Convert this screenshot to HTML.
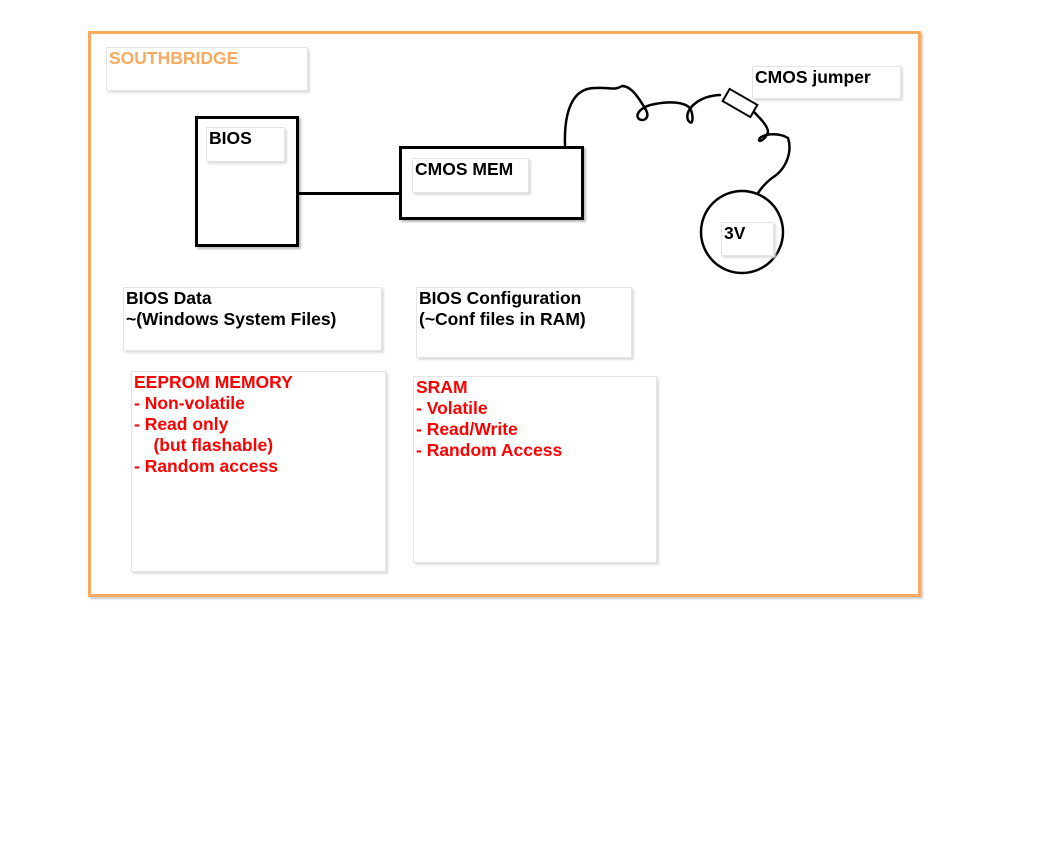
<!DOCTYPE html>
<html><head><style>
body{margin:0;width:1044px;height:859px;background:#fff;position:relative;overflow:hidden;font-family:"Liberation Sans",Arial,sans-serif;font-weight:bold;font-size:17.5px;}
.b{position:absolute;border:1px solid #e4e4e4;box-shadow:2px 2px 2px #ddd;background:#fff;box-sizing:border-box;padding:0 2px;line-height:21px;white-space:nowrap;}
.r{color:#ff0000;}
.k{position:absolute;border:3px solid #000;box-sizing:border-box;box-shadow:2px 2px 2px #bbb;}
</style></head><body>
<div style="position:absolute;left:88px;top:31px;width:833px;height:566px;border:3px solid #f9aa5f;box-sizing:border-box;box-shadow:2px 2px 2px #ccc"></div>
<div class="b" style="left:106px;top:47px;width:202px;height:44px;color:#f9aa5f">SOUTHBRIDGE</div>
<div class="k" style="left:195px;top:116px;width:104px;height:131px"></div>
<div class="b" style="left:206px;top:127px;width:79px;height:35px">BIOS</div>
<div style="position:absolute;left:299px;top:192px;width:101px;height:3px;background:#000"></div>
<div class="k" style="left:399px;top:146px;width:185px;height:74px"></div>
<div class="b" style="left:412px;top:158px;width:117px;height:35px">CMOS MEM</div>
<svg style="position:absolute;left:0;top:0" width="1044" height="859">
<g fill="none" stroke="#000" stroke-width="2.5" stroke-linecap="round">
<path d="M565 145 C564 112 572 88 595 88 C610 87 614 91 622 86 C632 86 640 100 646 110 C650 118 644 122 639 119 C634 114 642 106 655 104 C670 101 684 102 690 108 C694 116 693 128 688 120 C684 110 698 96 720 95 M752 110 C760 118 768 126 768 132 C766 140 756 144 760 138 C766 133 780 133 788 138 C792 150 788 168 772 178 C764 184 760 190 758 193"/>
<circle cx="742" cy="232" r="41"/>
</g>
<g transform="rotate(30 740 103)"><rect x="724" y="96" width="32" height="14" fill="#fff" stroke="#000" stroke-width="2"/></g>
</svg>
<div class="b" style="left:752px;top:66px;width:149px;height:33px">CMOS jumper</div>
<div class="b" style="left:721px;top:222px;width:53px;height:34px">3V</div>
<div class="b" style="left:123px;top:287px;width:259px;height:64px">BIOS Data<br>~(Windows System Files)</div>
<div class="b" style="left:416px;top:287px;width:216px;height:71px">BIOS Configuration<br>(~Conf files in RAM)</div>
<div class="b r" style="left:131px;top:371px;width:255px;height:201px">EEPROM MEMORY<br>- Non-volatile<br>- Read only<br>&nbsp;&nbsp;&nbsp;&nbsp;(but flashable)<br>- Random access</div>
<div class="b r" style="left:413px;top:376px;width:244px;height:187px">SRAM<br>- Volatile<br>- Read/Write<br>- Random Access</div>
</body></html>
